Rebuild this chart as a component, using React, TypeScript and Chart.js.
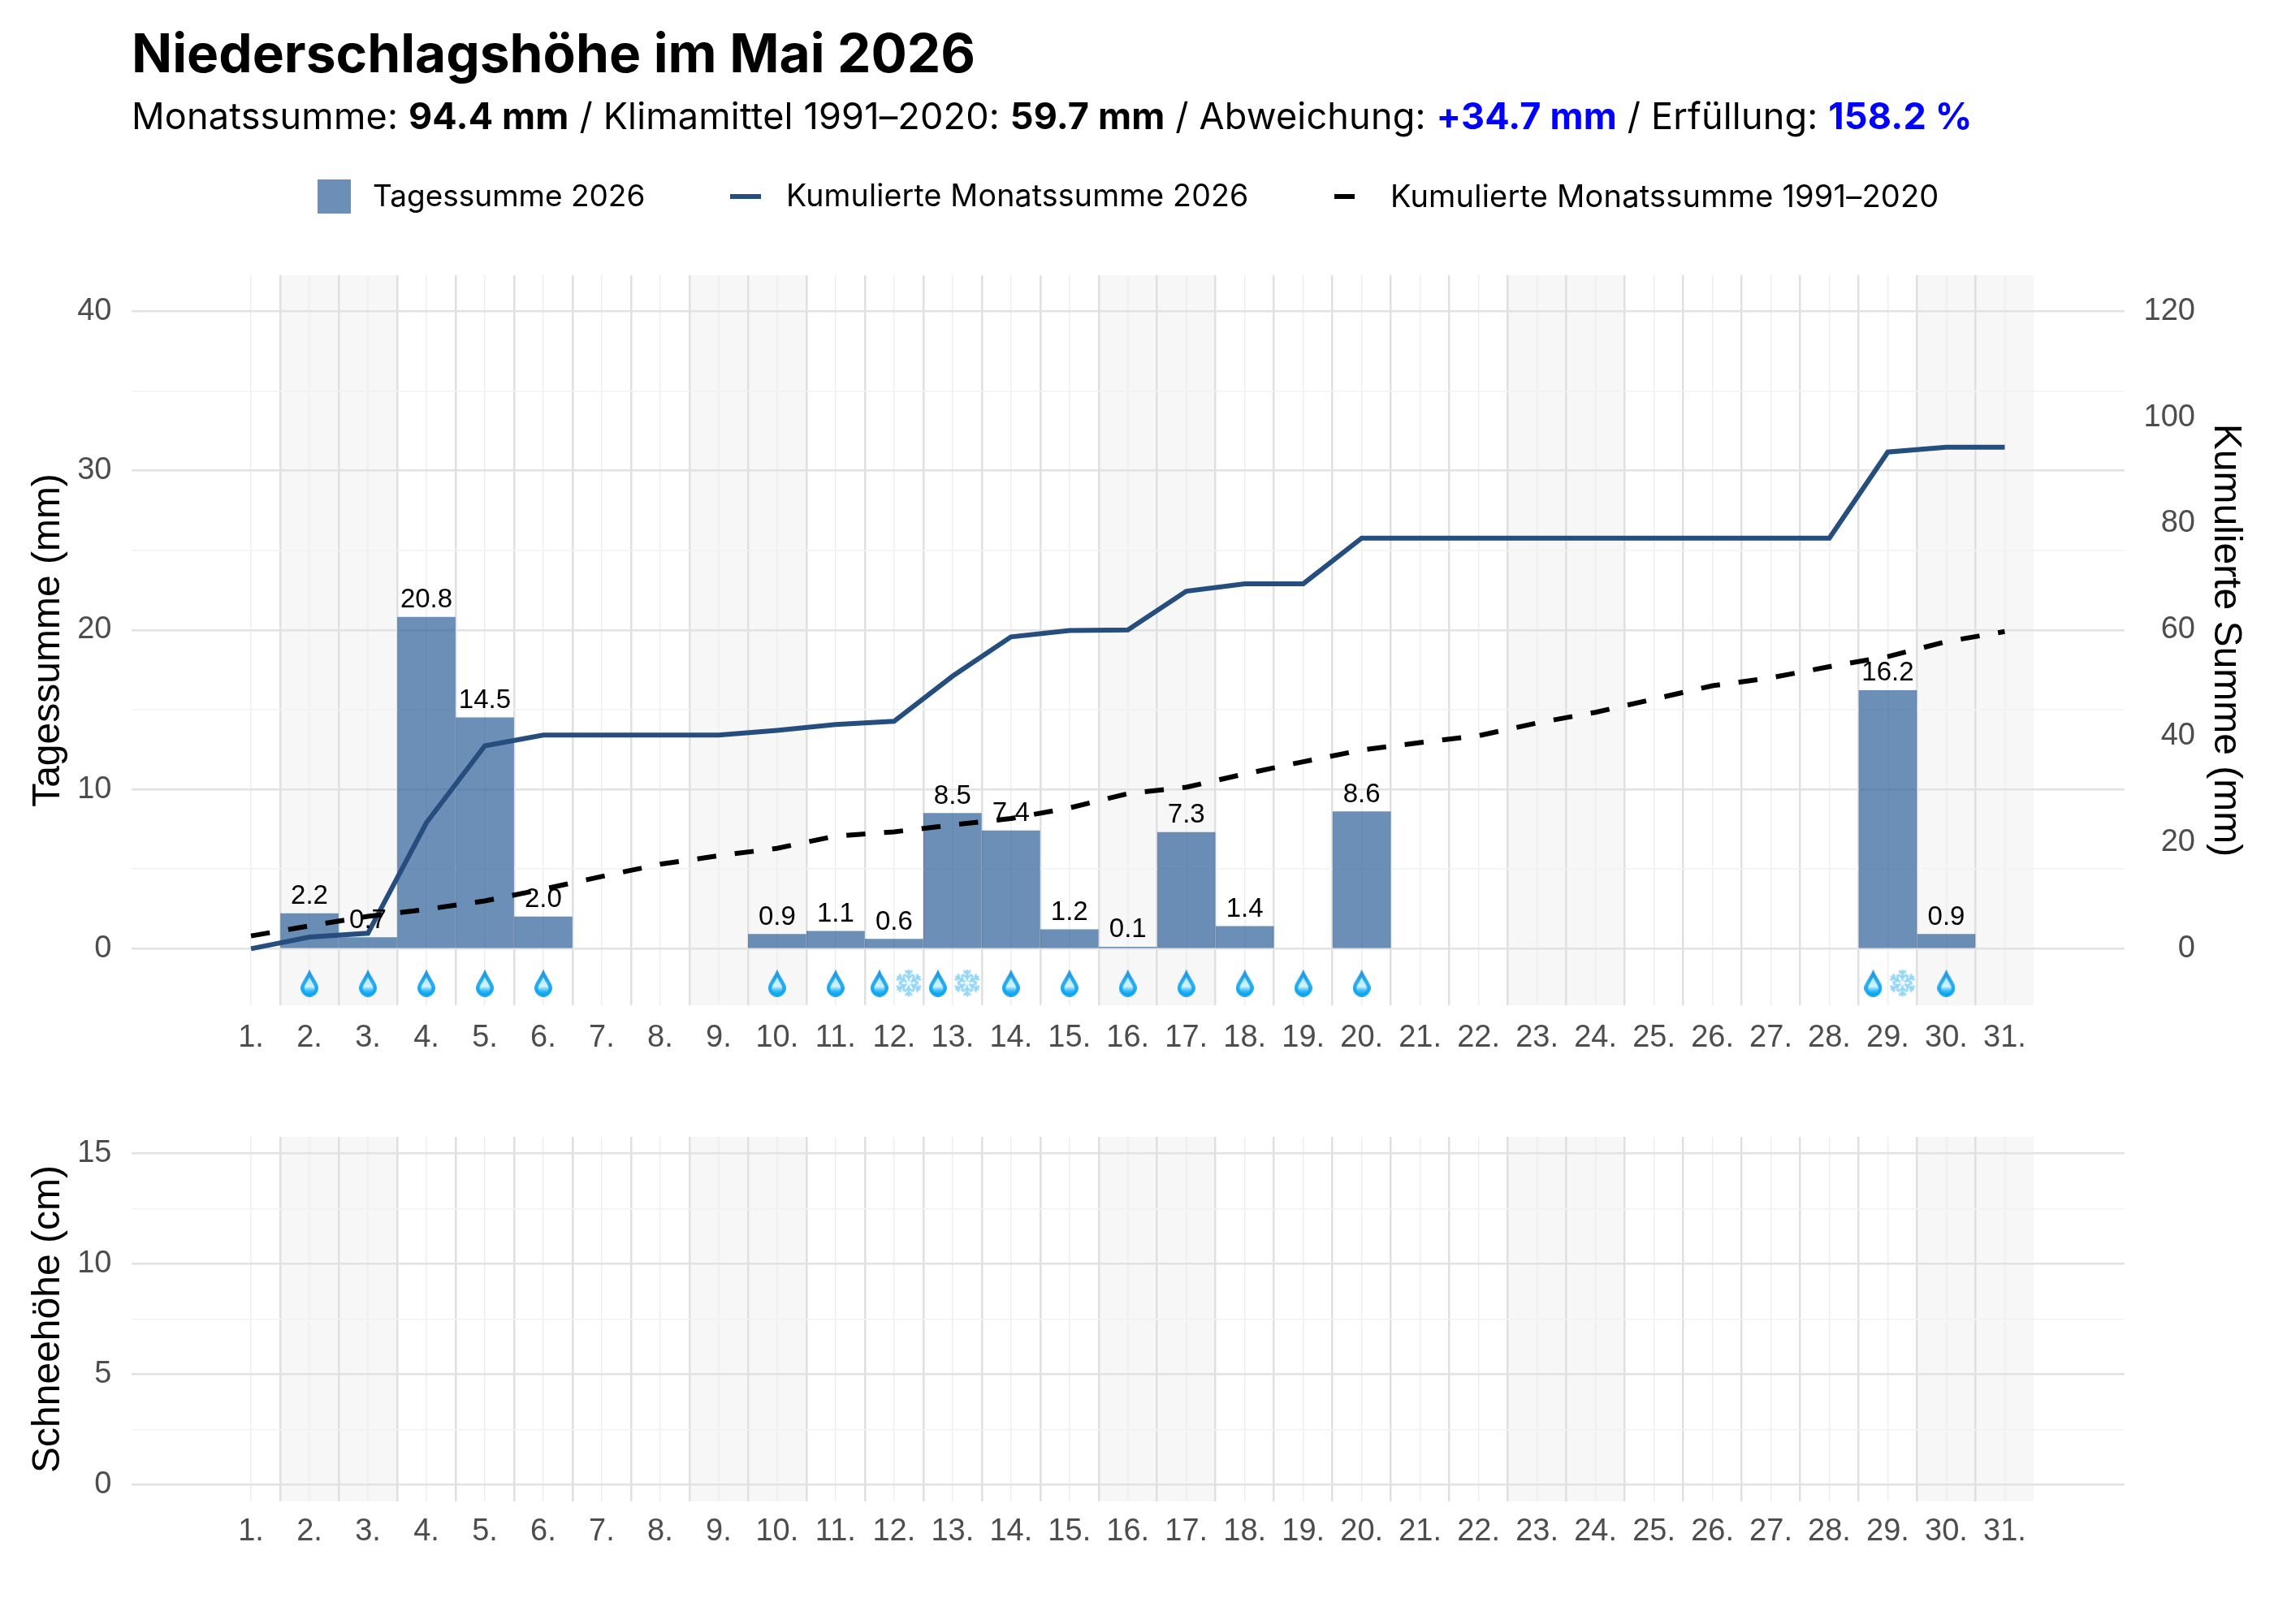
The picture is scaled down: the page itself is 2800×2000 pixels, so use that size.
import { useEffect, useRef } from "react";
import { Chart, registerables } from "chart.js";

Chart.register(...registerables);

const days = [1, 2, 3, 4, 5, 6, 7, 8, 9, 10, 11, 12, 13, 14, 15, 16, 17, 18, 19, 20, 21, 22, 23, 24, 25, 26, 27, 28, 29, 30, 31];
const dailySum = [0, 2.2, 0.7, 20.8, 14.5, 2.0, 0, 0, 0, 0.9, 1.1, 0.6, 8.5, 7.4, 1.2, 0.1, 7.3, 1.4, 0, 8.6, 0, 0, 0, 0, 0, 0, 0, 0, 16.2, 0.9, 0];
const cumulative2026 = [0, 2.2, 2.9, 23.7, 38.2, 40.2, 40.2, 40.2, 40.2, 41.1, 42.2, 42.8, 51.3, 58.7, 59.9, 60.0, 67.3, 68.7, 68.7, 77.3, 77.3, 77.3, 77.3, 77.3, 77.3, 77.3, 77.3, 77.3, 93.5, 94.4, 94.4];
const cumulativeClimate = [2.4, 4.3, 6.1, 7.4, 9.0, 11.2, 13.6, 15.9, 17.5, 18.9, 21.2, 22.0, 23.3, 24.5, 26.5, 29.2, 30.4, 32.9, 35.2, 37.4, 38.8, 40.1, 42.5, 44.5, 47.0, 49.5, 51.0, 53.1, 55.0, 57.8, 59.7];
const snowDepth = days.map(() => 0);

const rainDays = [2, 3, 4, 5, 6, 10, 11, 12, 13, 14, 15, 16, 17, 18, 19, 20, 29, 30];
const snowDays = [12, 13, 29];
const weekendDays = [2, 3, 9, 10, 16, 17, 23, 24, 30, 31];

const halfDays = [1.5, 2.5, 3.5, 4.5, 5.5, 6.5, 7.5, 8.5, 9.5, 10.5, 11.5, 12.5, 13.5, 14.5, 15.5, 16.5, 17.5, 18.5, 19.5, 20.5, 21.5, 22.5, 23.5, 24.5, 25.5, 26.5, 27.5, 28.5, 29.5, 30.5];
const rainTicks = [0, 5, 10, 15, 20, 25, 30, 35, 40];
const sumTicks = [0, 20, 40, 60, 80, 100, 120];
const snowTicks = [0, 2.5, 5, 7.5, 10, 12.5, 15];

const legendLabels = ["Tagessumme 2026", "Kumulierte Monatssumme 2026", "Kumulierte Monatssumme 1991–2020"];

const BAR_COLOR = "rgba(44, 95, 152, 0.7)";
const LINE_COLOR = "#254d7e";
const TICK_COLOR = "#4d4d4d";
const AXIS_FONT = "'Liberation Sans', sans-serif";
const TEXT_FONT = "Inter, sans-serif";

// small canvas drawn once and handed to chart.js as pointStyle
function makeDropIcon() {
  const c = document.createElement("canvas");
  c.width = 22;
  c.height = 34;
  const ctx = c.getContext("2d")!;
  const path = new Path2D("M11 0 C13 7 22 17 22 23 A11 11 0 0 1 0 23 C0 17 9 7 11 0 Z");
  const grad = ctx.createLinearGradient(0, 0, 0, 34);
  grad.addColorStop(0, "#1f8fd6");
  grad.addColorStop(0.5, "#29aef0");
  grad.addColorStop(1, "#08a4f2");
  ctx.fillStyle = grad;
  ctx.fill(path);
  const inner = ctx.createLinearGradient(0, 10, 0, 29);
  inner.addColorStop(0, "#b5e9fc");
  inner.addColorStop(0.6, "#d2f4fe");
  inner.addColorStop(1, "rgba(60, 190, 245, 0.3)");
  ctx.fillStyle = inner;
  ctx.fill(new Path2D("M11 10 C12.5 14 17.5 20 17.5 23.5 A6.5 6.5 0 0 1 4.5 23.5 C4.5 20 9.5 14 11 10 Z"));
  return c;
}

function makeSnowIcon() {
  const c = document.createElement("canvas");
  c.width = 34;
  c.height = 34;
  const ctx = c.getContext("2d")!;
  ctx.translate(17, 17);
  ctx.strokeStyle = "#93d6f5";
  ctx.lineWidth = 2.6;
  ctx.lineCap = "round";
  for (let i = 0; i < 6; i++) {
    ctx.save();
    ctx.rotate((i * Math.PI) / 3);
    ctx.beginPath();
    ctx.moveTo(0, 0);
    ctx.lineTo(0, -15.5);
    ctx.moveTo(0, -6);
    ctx.lineTo(-4.5, -10);
    ctx.moveTo(0, -6);
    ctx.lineTo(4.5, -10);
    ctx.moveTo(0, -11);
    ctx.lineTo(-3.5, -14.5);
    ctx.moveTo(0, -11);
    ctx.lineTo(3.5, -14.5);
    ctx.stroke();
    ctx.restore();
  }
  ctx.fillStyle = "#e8f8ff";
  ctx.beginPath();
  ctx.arc(0, 0, 3, 0, Math.PI * 2);
  ctx.fill();
  return c;
}

// shaded weekend columns, painted before the grid
const weekendBands = {
  id: "weekendBands",
  beforeDraw(chart: any) {
    const { ctx, chartArea, scales } = chart;
    ctx.save();
    ctx.fillStyle = "#f7f7f7";
    weekendDays.forEach((d) => {
      const x0 = scales.x.getPixelForValue(d - 0.5);
      const x1 = scales.x.getPixelForValue(d + 0.5);
      ctx.fillRect(x0, chartArea.top, x1 - x0, chartArea.bottom - chartArea.top);
    });
    ctx.restore();
  },
};

const barValueLabels = {
  id: "barValueLabels",
  afterDatasetsDraw(chart: any) {
    const { ctx } = chart;
    const bars = chart.getDatasetMeta(0).data;
    ctx.save();
    ctx.font = `33px ${AXIS_FONT}`;
    ctx.fillStyle = "#000000";
    ctx.textAlign = "center";
    ctx.textBaseline = "alphabetic";
    bars.forEach((bar: any, i: number) => {
      if (dailySum[i] > 0) ctx.fillText(dailySum[i].toFixed(1), bar.x, bar.y - 12);
    });
    ctx.restore();
  },
};

function xAxis(labelGap: number) {
  return {
    type: "linear",
    offset: false,
    min: -1.05,
    max: 33.05,
    afterBuildTicks(scale: any) {
      scale.ticks = [...days, ...halfDays].map((value) => ({ value }));
    },
    afterFit(scale: any) {
      scale.height = 80;
    },
    border: { display: false },
    grid: {
      offset: false,
      drawTicks: false,
      color: (ctx: any) => (Number.isInteger(ctx.tick?.value) ? "#eeeeee" : "#e0e0e0"),
      lineWidth: (ctx: any) => (Number.isInteger(ctx.tick?.value) ? 1.5 : 2.5),
    },
    ticks: {
      autoSkip: false,
      maxRotation: 0,
      padding: labelGap,
      color: TICK_COLOR,
      font: { family: AXIS_FONT, size: 38 },
      callback: (value: number) => (Number.isInteger(value) ? `${value}.` : ""),
    },
  };
}

function leftAxis(min: number, max: number, tickValues: number[], majorStep: number, title: string) {
  return {
    position: "left",
    min,
    max,
    afterBuildTicks(scale: any) {
      scale.ticks = tickValues.map((value) => ({ value }));
    },
    afterFit(scale: any) {
      scale.width = 161.5;
    },
    border: { display: false },
    grid: {
      drawTicks: false,
      color: (ctx: any) => (ctx.tick?.value % majorStep === 0 ? "#e2e2e2" : "#f2f2f2"),
      lineWidth: (ctx: any) => (ctx.tick?.value % majorStep === 0 ? 2.5 : 1.5),
    },
    ticks: {
      autoSkip: false,
      padding: 24,
      color: TICK_COLOR,
      font: { family: AXIS_FONT, size: 38 },
      callback: (value: number) => (value % majorStep === 0 ? String(value) : ""),
    },
    title: {
      display: true,
      text: title,
      color: "#000000",
      font: { family: AXIS_FONT, size: 48 },
      padding: { top: 31, bottom: 0 },
    },
  };
}

function PrecipitationChart() {
  const canvasRef = useRef<HTMLCanvasElement>(null);

  useEffect(() => {
    if (!canvasRef.current) return;
    const dropIcon = makeDropIcon();
    const snowIcon = makeSnowIcon();
    const iconY = -2.15;

    const chart = new Chart(canvasRef.current, {
      type: "bar",
      plugins: [weekendBands, barValueLabels],
      data: {
        datasets: [
          {
            label: legendLabels[0],
            data: days.map((d, i) => ({ x: d, y: dailySum[i] > 0 ? dailySum[i] : null })),
            backgroundColor: BAR_COLOR,
            barThickness: 71,
            yAxisID: "y",
            order: 4,
          },
          {
            type: "line",
            label: legendLabels[1],
            data: days.map((d, i) => ({ x: d, y: cumulative2026[i] })),
            borderColor: LINE_COLOR,
            borderWidth: 6,
            pointRadius: 0,
            tension: 0,
            yAxisID: "y2",
            order: 2,
          },
          {
            type: "line",
            label: legendLabels[2],
            data: days.map((d, i) => ({ x: d, y: cumulativeClimate[i] })),
            borderColor: "#000000",
            borderWidth: 6,
            borderDash: [23.5, 23],
            pointRadius: 0,
            tension: 0,
            yAxisID: "y2",
            order: 1,
          },
          {
            type: "scatter",
            label: "Regen",
            data: rainDays.map((d) => ({ x: snowDays.includes(d) ? d - 0.25 : d, y: iconY })),
            pointStyle: dropIcon,
            yAxisID: "y",
            order: 0,
          },
          {
            type: "scatter",
            label: "Schnee",
            data: snowDays.map((d) => ({ x: d + 0.25, y: iconY })),
            pointStyle: snowIcon,
            yAxisID: "y",
            order: 0,
          },
        ],
      } as any,
      options: {
        responsive: false,
        animation: false,
        events: [],
        layout: { padding: { top: 339, right: 97 } },
        plugins: { legend: { display: false }, tooltip: { enabled: false } },
        scales: {
          x: xAxis(18),
          y: leftAxis(-3.55, 42.26, rainTicks, 10, "Tagessumme (mm)"),
          y2: {
            position: "right",
            min: -3.55 * 3,
            max: 42.26 * 3,
            afterBuildTicks(scale: any) {
              scale.ticks = sumTicks.map((value) => ({ value }));
            },
            afterFit(scale: any) {
              scale.width = 87;
            },
            border: { display: false },
            grid: { display: false, drawTicks: false },
            ticks: {
              autoSkip: false,
              padding: 25,
              crossAlign: "far",
              color: TICK_COLOR,
              font: { family: AXIS_FONT, size: 38 },
            },
            title: {
              display: true,
              text: "Kumulierte Summe (mm)",
              color: "#000000",
              font: { family: AXIS_FONT, size: 48 },
              // the title sits outside the narrow tick box
              padding: { top: -66, bottom: 0 },
            },
          },
        },
      } as any,
    });

    return () => {
      chart.destroy();
    };
  }, []);

  return <canvas ref={canvasRef} width={2800} height={1318} style={{ position: "absolute", left: 0, top: 0 }} />;
}

function SnowChart() {
  const canvasRef = useRef<HTMLCanvasElement>(null);

  useEffect(() => {
    if (!canvasRef.current) return;

    const chart = new Chart(canvasRef.current, {
      type: "bar",
      plugins: [weekendBands],
      data: {
        datasets: [
          {
            label: "Schneehöhe",
            data: days.map((d, i) => ({ x: d, y: snowDepth[i] > 0 ? snowDepth[i] : null })),
            backgroundColor: BAR_COLOR,
            barThickness: 71,
          },
        ],
      } as any,
      options: {
        responsive: false,
        animation: false,
        events: [],
        layout: { padding: { top: 60, right: 184 } },
        plugins: { legend: { display: false }, tooltip: { enabled: false } },
        scales: {
          x: xAxis(15),
          y: leftAxis(-0.75, 15.75, snowTicks, 5, "Schneehöhe (cm)"),
        },
      } as any,
    });

    return () => {
      chart.destroy();
    };
  }, []);

  return <canvas ref={canvasRef} width={2800} height={589} style={{ position: "absolute", left: 0, top: 1340 }} />;
}

const Bold = ({ children, color }: { children: string; color?: string }) => (
  <span style={{ fontWeight: 700, color }}>{children}</span>
);

export default function App() {
  const textStyle = { position: "absolute", fontFamily: TEXT_FONT, whiteSpace: "nowrap", color: "#000000" } as const;
  const legendText = { ...textStyle, top: 219, lineHeight: "44px" } as const;

  return (
    <div style={{ position: "absolute", left: 0, top: 0, width: 2800, height: 2000, background: "#ffffff", overflow: "hidden" }}>
      <PrecipitationChart />
      <SnowChart />
      <div style={{ ...textStyle, left: 162, top: 25, fontSize: 65.8, lineHeight: "80px", fontWeight: 700 }}>
        Niederschlagshöhe im Mai 2026
      </div>
      <div style={{ ...textStyle, left: 162, top: 117, fontSize: 45, letterSpacing: 0.18, lineHeight: "52px" }}>
        Monatssumme: <Bold>94.4 mm</Bold> / Klimamittel 1991–2020: <Bold>59.7 mm</Bold> / Abweichung:{" "}
        <Bold color="#0000ff">+34.7 mm</Bold> / Erfüllung: <Bold color="#0000ff">158.2 %</Bold>
      </div>
      <div style={{ position: "absolute", left: 391, top: 221, width: 41, height: 42, background: BAR_COLOR }} />
      <div style={{ ...legendText, left: 459, fontSize: 37 }}>{legendLabels[0]}</div>
      <div style={{ position: "absolute", left: 899, top: 239, width: 38, height: 6, background: LINE_COLOR }} />
      <div style={{ ...legendText, left: 968, fontSize: 37.5, letterSpacing: 0.2 }}>{legendLabels[1]}</div>
      <div style={{ position: "absolute", left: 1643, top: 239, width: 25, height: 6, background: "#000000" }} />
      <div style={{ ...legendText, left: 1712, fontSize: 38, letterSpacing: 0.2 }}>{legendLabels[2]}</div>
    </div>
  );
}
